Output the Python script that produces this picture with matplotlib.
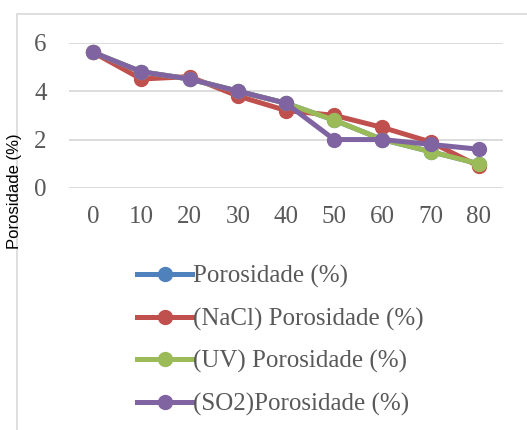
import matplotlib
matplotlib.use("Agg")
import matplotlib.pyplot as plt
from matplotlib.lines import Line2D
from matplotlib.patches import Rectangle

# data
x_vals = [0, 10, 20, 30, 40, 50, 60, 70, 80]
porosidade = [5.6, 4.8, 4.5, 4.0, 3.5, 2.8, 2.0, 1.5, 1.0]
nacl = [5.6, 4.5, 4.6, 3.8, 3.2, 3.0, 2.5, 1.9, 0.9]
uv = [5.6, 4.8, 4.5, 4.0, 3.5, 2.8, 2.0, 1.5, 1.0]
so2 = [5.6, 4.8, 4.5, 4.0, 3.5, 2.0, 2.0, 1.8, 1.6]
labels = ["Porosidade (%)", "(NaCl) Porosidade (%)",
          "(UV) Porosidade (%)", "(SO2)Porosidade (%)"]
colors = ["#4F81BD", "#C0504D", "#9BBB59", "#8064A2"]

SERIF = ["Liberation Serif", "DejaVu Serif"]
TXT = "#595959"
FS = 18

fig = plt.figure(figsize=(5.27, 4.30), dpi=100)
W, H = 527, 430

# outer chart border (light grey)
fig.patches.append(Rectangle((16.5 / W, -0.1), 1.2, 1.1 - 13.5 / H,
                             transform=fig.transFigure, fill=False,
                             edgecolor="#D9D9D9", lw=1.2))

ax = fig.add_axes([69 / W, 1 - 188 / H, (503 - 69) / W, (188 - 42.7) / H])
pos = list(range(len(x_vals)))
for ys, c, lab in zip([porosidade, nacl, uv, so2], colors, labels):
    ax.plot(pos, ys, "-o", color=c, lw=3.6, ms=10, label=lab,
            solid_capstyle="round", zorder=3, clip_on=False)

ax.set_xlim(-0.5, len(x_vals) - 0.5)
ax.set_ylim(0, 6)
ax.set_yticks([0, 2, 4, 6])
ax.set_xticks(pos)
ax.set_xticklabels([str(v) for v in x_vals])
ax.grid(axis="y", color="#D9D9D9", lw=1.3)
ax.set_axisbelow(True)
for s in ax.spines.values():
    s.set_visible(False)
ax.tick_params(length=0, colors=TXT, labelsize=FS)
ax.tick_params(axis="y", pad=16)
ax.tick_params(axis="x", pad=13)
for t in ax.get_xticklabels() + ax.get_yticklabels():
    t.set_family(SERIF)

fig.text(15 / W, 1 - 191 / H, "Porosidade (%)", rotation=90, ha="center",
         va="center", fontsize=12, family=["Liberation Sans", "DejaVu Sans"],
         color="black")

handles = [Line2D([], [], color=c, lw=3.6, marker="o", ms=10) for c in colors]
fig.legend(handles, labels, loc="upper left",
           bbox_to_anchor=(127 / W, 1 - 255 / H), frameon=False,
           prop={"family": SERIF, "size": FS}, labelcolor=TXT,
           handlelength=2.2, handletextpad=0.03, labelspacing=0.78,
           borderaxespad=0)

fig.savefig("out.png", dpi=100)
